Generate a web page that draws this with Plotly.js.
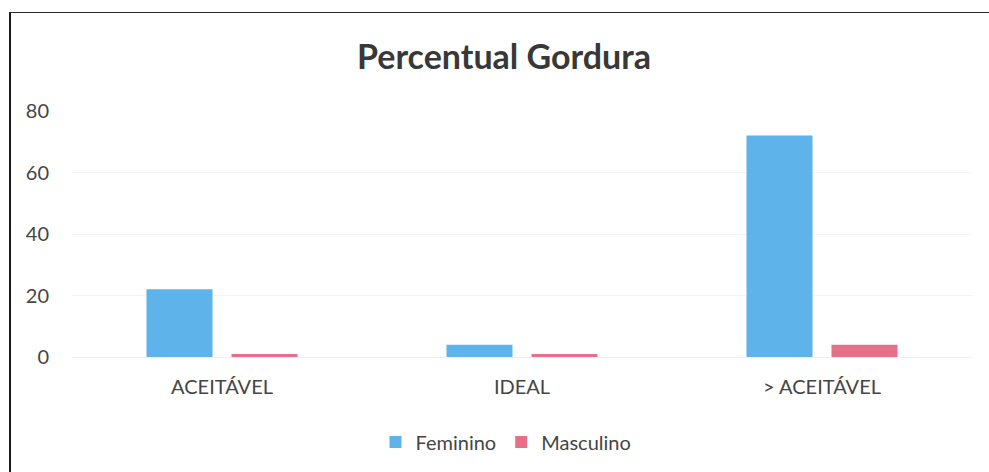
<!DOCTYPE html>
<html>
<head>
<meta charset="utf-8">
<script src="https://cdn.plot.ly/plotly-3.0.1.min.js"></script>
<style>
  html, body { margin: 0; padding: 0; background: #fff; overflow: hidden; }
  #wrap { position: relative; width: 989px; height: 472px; }
  #frame { position: absolute; left: 9px; top: 12px; width: 1100px; height: 600px;
           border-top: 1.5px solid #2a2a2a; border-left: 2px solid #1a1a1a; pointer-events: none; z-index: 5; }
  #chart { position: absolute; left: 0; top: 0; width: 989px; height: 472px; }
</style>
</head>
<body>
<div id="wrap">
  <div id="chart"></div>
  <div id="frame"></div>
</div>
<script>
const categories = ['ACEITÁVEL', 'IDEAL', '> ACEITÁVEL'];
const seriesNames = ['Feminino', 'Masculino'];
const feminino = [22, 4, 72];
const masculino = [1, 1, 4];
const yTicks = [0, 20, 40, 60, 80];

const FONT = 'Lato, "Open Sans", sans-serif';
const TXT = '#454545';

const data = [
  { type: 'bar', name: seriesNames[0], x: categories, y: feminino,
    marker: { color: '#5DB3EA' }, hoverinfo: 'x+y+name' },
  { type: 'bar', name: seriesNames[1], x: categories, y: masculino,
    marker: { color: '#E66F8A' }, hoverinfo: 'x+y+name' }
];

const layout = {
  width: 989, height: 472,
  margin: { l: 72, r: 17, t: 111, b: 115, pad: 0 },
  paper_bgcolor: 'rgba(0,0,0,0)', plot_bgcolor: 'rgba(0,0,0,0)',
  font: { family: FONT, color: TXT, size: 20 },
  title: { text: 'Percentual Gordura', font: { family: FONT, size: 34, color: '#383838', weight: 'bold' },
           xref: 'container', x: 504 / 989, xanchor: 'center',
           yref: 'container', y: 1 - 57 / 472, yanchor: 'middle' },
  barmode: 'group', bargap: 0.4333, bargroupgap: 0.2235,
  xaxis: { type: 'category', showgrid: false, showline: false, zeroline: false, ticks: '',
           ticklabelstandoff: 16, tickfont: { family: FONT, size: 20, color: TXT } },
  yaxis: { range: [0, 80], tickvals: yTicks, ticktext: yTicks.map(String), showline: false,
           gridcolor: '#f4f4f4', gridwidth: 1, zeroline: true, zerolinecolor: '#efefef', zerolinewidth: 1,
           ticks: '', ticklabelstandoff: 22, tickfont: { family: FONT, size: 20, color: TXT } },
  legend: { orientation: 'h', xref: 'container', yref: 'container', x: 506 / 989, xanchor: 'center',
            y: 1 - 442 / 472, yanchor: 'middle', font: { family: FONT, size: 20, color: TXT },
            itemwidth: 30, traceorder: 'normal' },
  showlegend: true
};

Plotly.newPlot('chart', data, layout, { displayModeBar: false, staticPlot: true });
</script>
</body>
</html>
